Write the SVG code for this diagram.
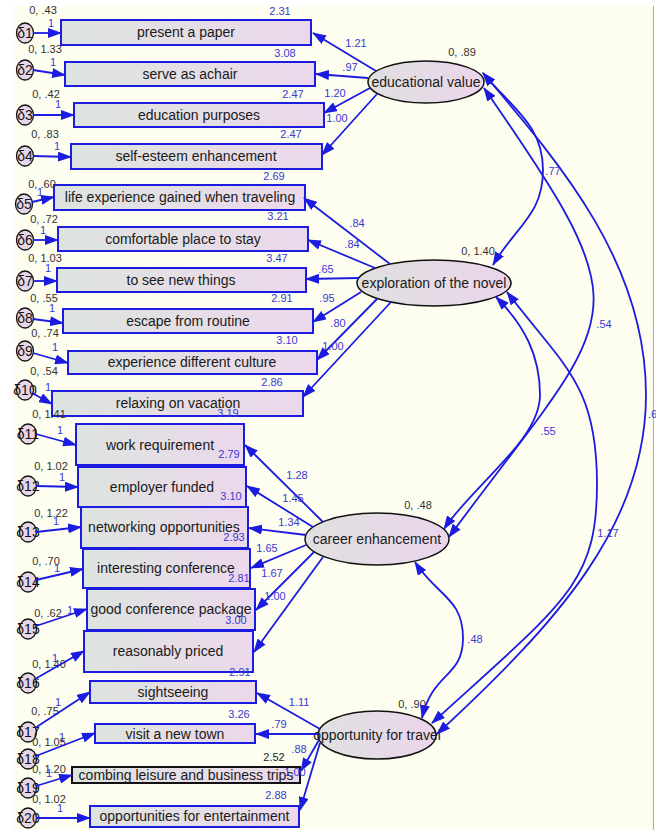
<svg xmlns="http://www.w3.org/2000/svg" width="656" height="830" viewBox="0 0 656 830">
<defs>
<linearGradient id="gb" x1="0" y1="0" x2="1" y2="0"><stop offset="0" stop-color="#dde4df"/><stop offset="1" stop-color="#ecd8ec"/></linearGradient>
<linearGradient id="ge" x1="0" y1="0" x2="1" y2="0"><stop offset="0" stop-color="#e0e0e0"/><stop offset="1" stop-color="#ebd5eb"/></linearGradient>
<marker id="ah" viewBox="0 0 14 10" markerWidth="14" markerHeight="10" refX="13" refY="5" orient="auto-start-reverse" markerUnits="userSpaceOnUse"><path d="M0,0 L14,5 L0,10 z" fill="#1c1ce0"/></marker>
<style>
.bx{stroke:#1c1ce0;stroke-width:2;fill:url(#gb)}
.bk{stroke:#111;stroke-width:2;fill:url(#gb)}
.lat{stroke:#111;stroke-width:1.5;fill:url(#ge)}
.er{stroke:#111;stroke-width:1.3;fill:#e8d6e8}
text{font-family:"Liberation Sans",Arial,sans-serif;text-anchor:middle}
.t{font-size:14px;fill:#1a1a1a}
.d{font-size:14px;fill:#111}
.n{font-size:11px;fill:#3a3ad2}
.k{font-size:11px;fill:#222}
.v{font-size:11px;fill:#333}
.ln{stroke:#1c1ce0;stroke-width:1.8;fill:none;marker-end:url(#ah)}
.cv{stroke:#1c1ce0;stroke-width:1.8;fill:none;marker-start:url(#ah);marker-end:url(#ah)}
</style>
</defs>
<rect width="656" height="830" fill="#ffffff"/>
<rect x="13" y="6" width="640" height="824" fill="#fdfdf0"/>
<line x1="653.5" y1="6" x2="653.5" y2="830" stroke="#aaaaaa" stroke-width="1"/>

<g id="nodes">
<g id="v1"><rect class="bx" x="61" y="20" width="250" height="25"/><text class="t" x="186" y="37">present a paper</text><text class="n" x="280" y="15">2.31</text></g>
<g id="v2"><rect class="bx" x="65" y="62" width="250" height="24"/><text class="t" x="190" y="79">serve as achair</text><text class="n" x="285" y="57">3.08</text></g>
<g id="v3"><rect class="bx" x="74" y="103" width="250" height="24"/><text class="t" x="199" y="120">education purposes</text><text class="n" x="293" y="98">2.47</text></g>
<g id="v4"><rect class="bx" x="71" y="144" width="251" height="25"/><text class="t" x="196" y="161">self-esteem enhancement</text><text class="n" x="291" y="138">2.47</text></g>
<g id="v5"><rect class="bx" x="54" y="185" width="251" height="25"/><text class="t" x="180" y="202">life experience gained when traveling</text><text class="n" x="274" y="180">2.69</text></g>
<g id="v6"><rect class="bx" x="58" y="227" width="250" height="24"/><text class="t" x="183" y="244">comfortable place to stay</text><text class="n" x="278" y="220">3.21</text></g>
<g id="v7"><rect class="bx" x="57" y="268" width="249" height="24"/><text class="t" x="181" y="285">to see new things</text><text class="n" x="277" y="262">3.47</text></g>
<g id="v8"><rect class="bx" x="63" y="309" width="250" height="24"/><text class="t" x="188" y="326">escape from routine</text><text class="n" x="282" y="302">2.91</text></g>
<g id="v9"><rect class="bx" x="68" y="351" width="249" height="23"/><text class="t" x="192" y="367">experience different culture</text><text class="n" x="287" y="344">3.10</text></g>
<g id="v10"><rect class="bx" x="52" y="391" width="251" height="25"/><text class="t" x="178" y="408">relaxing on vacation</text><text class="n" x="272" y="386">2.86</text></g>
<g id="v11"><rect class="bx" x="76" y="424" width="168" height="41"/><text class="t" x="160" y="450">work requirement</text><text class="n" x="228" y="417">3.19</text></g>
<g id="v12"><rect class="bx" x="78" y="467" width="168" height="40"/><text class="t" x="162" y="492">employer funded</text><text class="n" x="229" y="458">2.79</text></g>
<g id="v13"><rect class="bx" x="81" y="507" width="167" height="41"/><text class="t" x="164" y="532">networking opportunities</text><text class="n" x="231" y="500">3.10</text></g>
<g id="v14"><rect class="bx" x="83" y="549" width="167" height="39"/><text class="t" x="166" y="573">interesting conference</text><text class="n" x="234" y="541">2.93</text></g>
<g id="v15"><rect class="bx" x="87" y="589" width="168" height="41"/><text class="t" x="171" y="614">good conference package</text><text class="n" x="239" y="582">2.81</text></g>
<g id="v16"><rect class="bx" x="84" y="631" width="169" height="41"/><text class="t" x="168" y="656">reasonably priced</text><text class="n" x="236" y="624">3.00</text></g>
<g id="v17"><rect class="bx" x="90" y="681" width="166" height="22"/><text class="t" x="173" y="697">sightseeing</text><text class="n" x="240" y="676">2.91</text></g>
<g id="v18"><rect class="bx" x="95" y="724" width="160" height="19"/><text class="t" x="175" y="739">visit a new town</text><text class="n" x="239" y="718">3.26</text></g>
<g id="v19"><rect class="bk" x="72" y="767" width="228" height="16"/><text class="t" x="186" y="780">combing leisure and business trips</text><text class="k" x="274" y="761">2.52</text></g>
<g id="v20"><rect class="bx" x="90" y="806" width="209" height="21"/><text class="t" x="194.5" y="821">opportunities for entertainment</text><text class="n" x="276" y="799">2.88</text></g>

<g id="e1"><ellipse class="er" cx="25" cy="33" rx="8.5" ry="10"/><text class="d" x="25" y="38">δ1</text><text class="v" x="43" y="14">0, .43</text></g>
<g id="e2"><ellipse class="er" cx="25" cy="70" rx="8.5" ry="10"/><text class="d" x="25" y="75">δ2</text><text class="v" x="45" y="53">0, 1.33</text></g>
<g id="e3"><ellipse class="er" cx="25" cy="115" rx="8.5" ry="10"/><text class="d" x="25" y="120">δ3</text><text class="v" x="46" y="98">0, .42</text></g>
<g id="e4"><ellipse class="er" cx="25" cy="156" rx="8.5" ry="10"/><text class="d" x="25" y="161">δ4</text><text class="v" x="45" y="138">0, .83</text></g>
<g id="e5"><ellipse class="er" cx="24" cy="204" rx="8.5" ry="10"/><text class="d" x="24" y="209">δ5</text><text class="v" x="42" y="188">0, .60</text></g>
<g id="e6"><ellipse class="er" cx="25" cy="240" rx="8.5" ry="10"/><text class="d" x="25" y="245">δ6</text><text class="v" x="44" y="223">0, .72</text></g>
<g id="e7"><ellipse class="er" cx="25" cy="281" rx="8.5" ry="10"/><text class="d" x="25" y="286">δ7</text><text class="v" x="45" y="262">0, 1.03</text></g>
<g id="e8"><ellipse class="er" cx="25" cy="318" rx="8.5" ry="10"/><text class="d" x="25" y="323">δ8</text><text class="v" x="44" y="302">0, .55</text></g>
<g id="e9"><ellipse class="er" cx="25" cy="351" rx="8.5" ry="10"/><text class="d" x="25" y="356">δ9</text><text class="v" x="45" y="337">0, .74</text></g>
<g id="e10"><ellipse class="er" cx="25" cy="390" rx="8.5" ry="10"/><text class="d" x="25" y="395">δ10</text><text class="v" x="44" y="375">0, .54</text></g>
<g id="e11"><ellipse class="er" cx="28" cy="434" rx="8.5" ry="10"/><text class="d" x="28" y="439">δ11</text><text class="v" x="49" y="418">0, 1.41</text></g>
<g id="e12"><ellipse class="er" cx="28" cy="486" rx="8.5" ry="10"/><text class="d" x="28" y="491">δ12</text><text class="v" x="51" y="470">0, 1.02</text></g>
<g id="e13"><ellipse class="er" cx="28" cy="532" rx="8.5" ry="10"/><text class="d" x="28" y="537">δ13</text><text class="v" x="51" y="517">0, 1.22</text></g>
<g id="e14"><ellipse class="er" cx="28" cy="582" rx="8.5" ry="10"/><text class="d" x="28" y="587">δ14</text><text class="v" x="46" y="565">0, .70</text></g>
<g id="e15"><ellipse class="er" cx="28" cy="629" rx="8.5" ry="10"/><text class="d" x="28" y="634">δ15</text><text class="v" x="48" y="617">0, .62</text></g>
<g id="e16"><ellipse class="er" cx="28" cy="683" rx="8.5" ry="10"/><text class="d" x="28" y="688">δ16</text><text class="v" x="49" y="668">0, 1.40</text></g>
<g id="e17"><ellipse class="er" cx="28" cy="732" rx="8.5" ry="10"/><text class="d" x="28" y="737">δ17</text><text class="v" x="45" y="715">0, .75</text></g>
<g id="e18"><ellipse class="er" cx="28" cy="759" rx="8.5" ry="10"/><text class="d" x="28" y="764">δ18</text><text class="v" x="49" y="746">0, 1.05</text></g>
<g id="e19"><ellipse class="er" cx="28" cy="788" rx="8.5" ry="10"/><text class="d" x="28" y="793">δ19</text><text class="v" x="49" y="773">0, 1.20</text></g>
<g id="e20"><ellipse class="er" cx="28" cy="818" rx="8.5" ry="10"/><text class="d" x="28" y="823">δ20</text><text class="v" x="49" y="803">0, 1.02</text></g>

<g id="EV"><ellipse class="lat" cx="426" cy="82" rx="58" ry="21"/><text class="t" x="426" y="87">educational value</text><text class="v" x="462" y="56">0, .89</text></g>
<g id="EN"><ellipse class="lat" cx="434" cy="283" rx="77" ry="23"/><text class="t" x="434" y="288">exploration of the novel</text><text class="v" x="478" y="255">0, 1.40</text></g>
<g id="CE"><ellipse class="lat" cx="377" cy="539" rx="72" ry="26"/><text class="t" x="377" y="544">career enhancement</text><text class="v" x="418" y="509">0, .48</text></g>
<g id="OT"><ellipse class="lat" cx="377" cy="735" rx="59" ry="24"/><text class="t" x="377" y="740">opportunity for travel</text><text class="v" x="412" y="708">0, .90</text></g>
</g>

<g id="connectors">
<path class="ln" d="M33,33 L61,33"/>
<path class="ln" d="M33,70 L65,75"/>
<path class="ln" d="M33,115 L74,115"/>
<path class="ln" d="M33,156 L71,157"/>
<path class="ln" d="M32,202 L54,197"/>
<path class="ln" d="M33,240 L58,240"/>
<path class="ln" d="M33,281 L57,281"/>
<path class="ln" d="M33,319 L63,323"/>
<path class="ln" d="M33,353 L68,363"/>
<path class="ln" d="M32,393 L52,404"/>
<path class="ln" d="M36,434 L76,445"/>
<path class="ln" d="M36,486 L78,487"/>
<path class="ln" d="M36,532 L81,527"/>
<path class="ln" d="M36,580 L83,569"/>
<path class="ln" d="M36,626 L87,609"/>
<path class="ln" d="M35,679 L84,651"/>
<path class="ln" d="M35,728 L90,692"/>
<path class="ln" d="M36,756 L95,733"/>
<path class="ln" d="M36,786 L72,775"/>
<path class="ln" d="M36,818 L90,818"/>

<path class="ln" d="M376,71 L313,33"/>
<path class="ln" d="M368,78 L316,74"/>
<path class="ln" d="M370,88 L324,113"/>
<path class="ln" d="M377,94 L322,155"/>
<path class="ln" d="M390,264 L304,198"/>
<path class="ln" d="M375,268 L308,240"/>
<path class="ln" d="M359,278 L306,279"/>
<path class="ln" d="M361,292 L313,322"/>
<path class="ln" d="M377,299 L317,360"/>
<path class="ln" d="M391,302 L303,397"/>
<path class="ln" d="M323,522 L245,445"/>
<path class="ln" d="M313,527 L247,486"/>
<path class="ln" d="M306,535 L249,528"/>
<path class="ln" d="M306,545 L251,568"/>
<path class="ln" d="M314,552 L256,610"/>
<path class="ln" d="M323,557 L254,652"/>
<path class="ln" d="M320,729 L257,693"/>
<path class="ln" d="M318,734 L256,734"/>
<path class="ln" d="M319,740 L301,771"/>
<path class="ln" d="M320,743 L300,810"/>

<path class="cv" d="M483,73 C512,108 543,125 543,170 C543,215 516,226 493,265"/>
<path class="cv" d="M483,73 C564,168 646,265 646,395 C646,525 557,623 437,734"/>
<path class="cv" d="M484,88 C649,326 620,305 449,537"/>
<path class="cv" d="M496,297 C524,325 540,355 540,395 C540,440 474,484 444,529"/>
<path class="cv" d="M507,292 C564,367 597,384 597,484 C597,584 565,602 432,723"/>
<path class="cv" d="M415,562 C437,596 463,598 463,638 C463,678 433,671 422,718"/>

<text class="n" x="51" y="27">1</text>
<text class="n" x="53" y="66">1</text>
<text class="n" x="58" y="108">1</text>
<text class="n" x="57" y="150">1</text>
<text class="n" x="40" y="196">1</text>
<text class="n" x="43" y="234">1</text>
<text class="n" x="48" y="272">1</text>
<text class="n" x="52" y="312">1</text>
<text class="n" x="55" y="351">1</text>
<text class="n" x="48" y="391">1</text>
<text class="n" x="60" y="434">1</text>
<text class="n" x="62" y="481">1</text>
<text class="n" x="56" y="525">1</text>
<text class="n" x="57" y="572">1</text>
<text class="n" x="70" y="614">1</text>
<text class="n" x="55" y="662">1</text>
<text class="n" x="58" y="706">1</text>
<text class="n" x="62" y="741">1</text>
<text class="n" x="49" y="777">1</text>
<text class="n" x="60" y="812">1</text>

<text class="n" x="356" y="47">1.21</text>
<text class="n" x="350" y="71">.97</text>
<text class="n" x="335" y="97">1.20</text>
<text class="n" x="337" y="122">1.00</text>
<text class="n" x="357" y="227">.84</text>
<text class="n" x="352" y="248">.84</text>
<text class="n" x="326" y="273">.65</text>
<text class="n" x="327" y="302">.95</text>
<text class="n" x="338" y="327">.80</text>
<text class="n" x="333" y="350">1.00</text>
<text class="n" x="297" y="479">1.28</text>
<text class="n" x="293" y="502">1.45</text>
<text class="n" x="289" y="526">1.34</text>
<text class="n" x="267" y="552">1.65</text>
<text class="n" x="272" y="577">1.67</text>
<text class="n" x="275" y="600">1.00</text>
<text class="n" x="299" y="706">1.11</text>
<text class="n" x="279" y="728">.79</text>
<text class="n" x="299" y="753">.88</text>
<text class="n" x="295" y="776">1.00</text>

<text class="n" x="553" y="175">.77</text>
<text class="n" x="604" y="328">.54</text>
<text class="n" x="548" y="435">.55</text>
<text class="n" x="608" y="537">1.17</text>
<text class="n" x="475" y="643">.48</text>
<text class="n" x="648" y="418" style="text-anchor:start">.6</text>
</g>
</svg>
